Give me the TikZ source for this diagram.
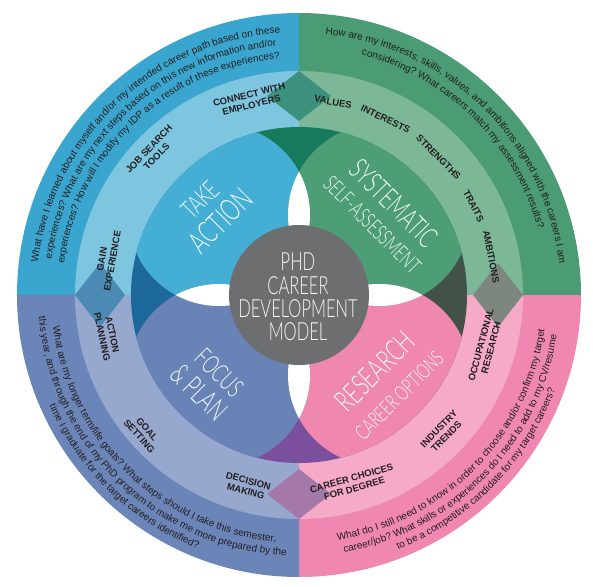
\documentclass[tikz,border=0pt]{standalone}
\usepackage{fontspec}
\setmainfont{Liberation Sans}
\newfontfamily\thinfont[FakeStretch=0.66]{Lato Light}
\usetikzlibrary{decorations.text}
\definecolor{blueO}{HTML}{3AA6CF}
\definecolor{blueM}{HTML}{7EC6E0}
\definecolor{blueC}{HTML}{45AED4}
\definecolor{greenO}{HTML}{4B9B75}
\definecolor{greenM}{HTML}{7CB798}
\definecolor{greenC}{HTML}{4D9D76}
\definecolor{pinkO}{HTML}{F087B0}
\definecolor{pinkM}{HTML}{F5AAC8}
\definecolor{pinkC}{HTML}{EF87AE}
\definecolor{slateO}{HTML}{6B85B8}
\definecolor{slateM}{HTML}{97A8CF}
\definecolor{slateC}{HTML}{6983B7}
\definecolor{darkT}{HTML}{167A5C}
\definecolor{darkR}{HTML}{425248}
\definecolor{darkB}{HTML}{7A509E}
\definecolor{darkL}{HTML}{1C689B}
\definecolor{diaT}{HTML}{3C917D}
\definecolor{diaR}{HTML}{7D8780}
\definecolor{diaB}{HTML}{A578AA}
\definecolor{diaL}{HTML}{4B8AB4}
\definecolor{hub}{HTML}{6D6E70}
\definecolor{ink}{HTML}{231F20}
\definecolor{titlewhite}{HTML}{F2FAF8}
\newcommand\qsize{\fontsize{10}{12}\selectfont}
\tikzset{
  qline/.style={decorate, decoration={text along path, text align=center, text color=ink, text={|\qsize|#1}}},
  kw/.style={font=\fontsize{9.5}{10.5}\selectfont\bfseries, text=ink, align=center, inner sep=0pt},
  ttl/.style={font=\thinfont, text=titlewhite, align=center, inner sep=0pt},
}
\begin{document}
\begin{tikzpicture}[x=1pt,y=1pt]
\useasboundingbox (-299,-291) rectangle (294,295);
% outer ring
\fill[blueO]  (0,0) -- (90:282) arc[start angle=90, end angle=180, radius=282] -- cycle;
\fill[greenO] (0,0) -- (0:282) arc[start angle=0, end angle=90, radius=282] -- cycle;
\fill[pinkO]  (0,0) -- (-90:282) arc[start angle=-90, end angle=0, radius=282] -- cycle;
\fill[slateO] (0,0) -- (180:282) arc[start angle=180, end angle=270, radius=282] -- cycle;
% middle ring
\fill[blueM]  (0,0) -- (90:224) arc[start angle=90, end angle=180, radius=224] -- cycle;
\fill[greenM] (0,0) -- (0:224) arc[start angle=0, end angle=90, radius=224] -- cycle;
\fill[pinkM]  (0,0) -- (-90:224) arc[start angle=-90, end angle=0, radius=224] -- cycle;
\fill[slateM] (0,0) -- (180:224) arc[start angle=180, end angle=270, radius=224] -- cycle;
% diamonds
\fill[diaT] (0,174) -- (32,199) -- (0,224) -- (-32,199) -- cycle;
\fill[diaR] (174,0) -- (199,32) -- (224,0) -- (199,-32) -- cycle;
\fill[diaB] (0,-174) -- (32,-199) -- (0,-224) -- (-32,-199) -- cycle;
\fill[diaL] (-174,0) -- (-199,32) -- (-224,0) -- (-199,-32) -- cycle;
% inner disk
\begin{scope}
  \clip (0,0) circle[radius=168];
  \fill[darkT] (0,0) -- (45:200) arc[start angle=45, end angle=135, radius=200] -- cycle;
  \fill[darkL] (0,0) -- (135:200) arc[start angle=135, end angle=225, radius=200] -- cycle;
  \fill[darkB] (0,0) -- (225:200) arc[start angle=225, end angle=315, radius=200] -- cycle;
  \fill[darkR] (0,0) -- (-45:200) arc[start angle=-45, end angle=45, radius=200] -- cycle;
  \fill[blueC]  (-80,80) circle[radius=91];
  \fill[greenC] (80,80) circle[radius=91];
  \fill[pinkC]  (80,-80) circle[radius=91];
  \fill[slateC] (-80,-80) circle[radius=91];
  \begin{scope}
    \clip (-80,80) circle[radius=91];
    \fill[white] (80,80) circle[radius=91];
    \fill[white] (-80,-80) circle[radius=91];
  \end{scope}
  \begin{scope}
    \clip (80,-80) circle[radius=91];
    \fill[white] (80,80) circle[radius=91];
    \fill[white] (-80,-80) circle[radius=91];
  \end{scope}
\end{scope}
\fill[hub] (0,0) circle[radius=70];
% center title
\node[ttl, font=\thinfont\fontsize{25}{23.3}\selectfont] (hubtext) at (-1,-2) {PHD\\CAREER\\DEVELOPMENT\\MODEL};
% quadrant titles
\node[ttl, rotate=45, font=\thinfont\fontsize{31}{31}\selectfont] (take) at (-88,84) {{\fontsize{26}{26}\selectfont TAKE}\\ACTION};
\node[ttl, rotate=-45, font=\thinfont\fontsize{22}{28}\selectfont] (sys) at (85,82) {{\fontsize{29}{29}\selectfont SYSTEMATIC}\\SELF-ASSESSMENT};
\node[ttl, rotate=45, font=\thinfont\fontsize{21}{31}\selectfont] (res) at (87,-87) {{\fontsize{30}{30}\selectfont RESEARCH}\\CAREER OPTIONS};
\node[ttl, rotate=-45, font=\thinfont\fontsize{29}{29}\selectfont] (focus) at (-90,-88) {{\fontsize{26}{26}\selectfont FOCUS}\\\&\,PLAN};
% keywords
\node[kw, rotate=14]  (k1) at (104:201) {CONNECT WITH\\EMPLOYERS};
\node[kw, rotate=46]  (k2) at (135.8:204) {JOB SEARCH\\TOOLS};
\node[kw, rotate=80]  (k3) at (169.7:195) {GAIN\\EXPERIENCE};
\node[kw, rotate=-10] (k4) at (80:196) {VALUES};
\node[kw, rotate=-26] (k5) at (63.8:196) {INTERESTS};
\node[kw, rotate=-45] (k6) at (44.6:196) {STRENGTHS};
\node[kw, rotate=-63] (k7) at (27:196) {TRAITS};
\node[kw, rotate=-79] (k8) at (11.3:196) {AMBITIONS};
\node[kw, rotate=75]  (k9) at (-15.3:194) {OCCUPATIONAL\\RESEARCH};
\node[kw, rotate=46]  (k10) at (-43.8:199) {INDUSTRY\\TRENDS};
\node[kw, rotate=16]  (k11) at (-74:196) {CAREER CHOICES\\FOR DEGREE};
\node[kw, rotate=-78] (k12) at (192:196) {ACTION\\PLANNING};
\node[kw, rotate=-48.5] (k13) at (221.5:208) {GOAL\\SETTING};
\node[kw, rotate=-15] (k14) at (254.8:198) {DECISION\\MAKING};
% questions top-left
\path[qline={What have I learned about myself and/or my intended career path based on these}] (200:263) arc[start angle=200, end angle=67, radius=263];
\path[qline={experiences?  What are my next steps based on this new information and/or}] (200:250) arc[start angle=200, end angle=67, radius=250];
\path[qline={experiences?  How will I modify my IDP as a result of these experiences?}] (200:237) arc[start angle=200, end angle=67, radius=237];
% top-right
\path[qline={How are my interests, skills, values, and ambitions aligned with the careers I am}] (112:262) arc[start angle=112, end angle=-21, radius=262];
\path[qline={considering?  What careers match my assessment results?}] (112:248) arc[start angle=112, end angle=-21, radius=248];
% bottom-right
\path[qline={What do I still need to know in order to choose and/or confirm my target}] (-111:248) arc[start angle=-111, end angle=22, radius=248];
\path[qline={career/job? What skills or experiences do I need to add to my CV/resume}] (-111:261) arc[start angle=-111, end angle=22, radius=261];
\path[qline={to be a competitive candidate for my target careers?}] (-111:273) arc[start angle=-111, end angle=22, radius=273];
% bottom-left
\path[qline={What are my longer term/life goals? What steps should I take this semester,}] (160:248) arc[start angle=160, end angle=292, radius=248];
\path[qline={this year, and through the end of my PhD program to make me more prepared by the}] (160:261) arc[start angle=160, end angle=292, radius=261];
\path[qline={time I graduate for the target careers identified?}] (160:273) arc[start angle=160, end angle=292, radius=273];
\end{tikzpicture}
\end{document}
